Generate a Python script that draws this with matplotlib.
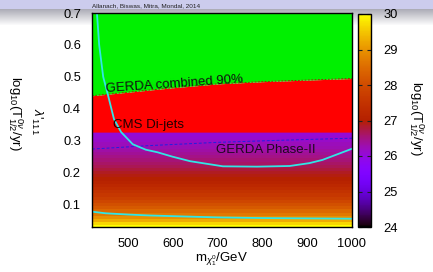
import numpy as np
import matplotlib
matplotlib.use("Agg")
import matplotlib.pyplot as plt
from matplotlib.colors import Normalize
from matplotlib.cm import ScalarMappable

plt.rcParams['font.family'] = ['Liberation Sans', 'DejaVu Sans']
plt.rcParams['mathtext.fontset'] = 'custom'
plt.rcParams['mathtext.rm'] = 'Liberation Sans'
plt.rcParams['mathtext.it'] = 'Liberation Sans:italic'

# log10(T_1/2) bands (one row per lambda step)
lam_rows = [0.03, 0.04, 0.05, 0.06, 0.07, 0.08, 0.09, 0.10, 0.11, 0.12, 0.13,
            0.14, 0.15, 0.16, 0.17, 0.18, 0.19, 0.20, 0.21, 0.22, 0.23, 0.24,
            0.25, 0.26, 0.27, 0.28, 0.29, 0.30, 0.31, 0.32, 0.33]
logT_rows = [30.0, 29.65, 29.26, 28.95, 28.68, 28.45, 28.24, 28.06, 27.90, 27.74,
             27.60, 27.48, 27.36, 27.24, 27.14, 27.04, 26.94, 26.86, 26.77, 26.69,
             26.61, 26.54, 26.47, 26.40, 26.34, 26.27, 26.21, 26.15, 26.10, 26.04, 25.98]

# exclusion boundaries
cms_m = [420, 1000]
cms_lam = [0.327, 0.327]
gerda_comb_m = [420, 500, 600, 700, 800, 900, 1000]
gerda_comb_lam = [0.441, 0.452, 0.466, 0.478, 0.485, 0.490, 0.495]
gerda2_m = [420, 550, 700, 850, 1000]
gerda2_lam = [0.274, 0.285, 0.295, 0.302, 0.308]

# cyan contours
cyan1_m = [431, 436, 445, 456, 469, 485, 511, 540, 566, 600, 639, 712, 788, 861, 905, 934, 1000]
cyan1_lam = [0.70, 0.60, 0.50, 0.441, 0.368, 0.327, 0.289, 0.272, 0.264, 0.250, 0.236,
             0.220, 0.219, 0.221, 0.230, 0.240, 0.275]
cyan2_m = [420, 450, 500, 550, 600, 700, 800, 900, 1000]
cyan2_lam = [0.078, 0.073, 0.069, 0.066, 0.064, 0.060, 0.058, 0.057, 0.056]

W, H = 433, 272
fig = plt.figure(figsize=(W / 100, H / 100), dpi=100)

# slide header band + shadow
bg = fig.add_axes([0, 0, 1, 1], zorder=-5)
grad = np.ones((H, 1, 3))
grad[:9] = [0.80, 0.80, 0.93]
for i in range(9, 26):
    t = (i - 9) / 16
    grad[i] = np.array([0.68, 0.68, 0.72]) * (1 - t) + t
bg.imshow(grad, aspect='auto', extent=[0, 1, 0, 1])
bg.axis('off')

ax = fig.add_axes([92 / W, 45 / H, 260 / W, 214 / H])
norm = Normalize(24, 30)
lam_edges = np.concatenate([[lam_rows[0] - 0.005], np.array(lam_rows) + 0.005])
ax.pcolormesh([420, 1000], lam_edges, np.array(logT_rows).reshape(-1, 1),
              cmap='gnuplot', norm=norm, shading='flat')

gc = np.array(gerda_comb_lam)
ax.fill_between(gerda_comb_m, np.interp(gerda_comb_m, cms_m, cms_lam), gc,
                color='#ff0000', lw=0)
ax.fill_between(gerda_comb_m, gc, 0.75, color='#00f000', lw=0)
ax.plot(gerda_comb_m, gc, color='#c00000', lw=0.6, ls=(0, (2, 2)))
ax.plot(gerda2_m, gerda2_lam, color='#2020e0', lw=0.7, ls=(0, (3, 2)))
ax.plot(cyan1_m, cyan1_lam, color='#30e6e6', lw=1.3)
ax.plot(cyan2_m, cyan2_lam, color='#30e6e6', lw=1.3)

ax.text(603, 0.478, 'GERDA combined 90%', fontsize=9.5, ha='center', va='center',
        rotation=4, color='#101010')
ax.text(546, 0.350, 'CMS Di-jets', fontsize=9.5, ha='center', va='center', color='#200000')
ax.text(808, 0.272, 'GERDA Phase-II', fontsize=9.5, ha='center', va='center', color='#200820')

ax.set_xlim(420, 1000)
ax.set_ylim(0.03, 0.7)
ax.set_xticks([500, 600, 700, 800, 900, 1000])
ax.set_yticks([0.1, 0.2, 0.3, 0.4, 0.5, 0.6, 0.7])
ax.set_yticklabels(['0.1', '0.2', '0.3', '0.4', '0.5', '0.6', '0.7'])
ax.tick_params(length=0, labelsize=9.3, pad=8)
for s in ax.spines.values():
    s.set_linewidth(1.0)

cax = fig.add_axes([358 / W, 45 / H, 13 / W, 213 / H])
cb = fig.colorbar(ScalarMappable(norm=norm, cmap='gnuplot'), cax=cax)
cb.set_ticks([24, 25, 26, 27, 28, 29, 30])
cax.tick_params(direction='in', length=3, width=0.8, color='#202020',
                left=True, right=True, labelsize=9.3, pad=9)
cb.outline.set_linewidth(1.0)

lab = r'log$_{10}$(T$^{0\nu}_{1/2}$/yr)'
fig.text(416 / W, 1 - 118 / H, lab, rotation=270, fontsize=9.5, ha='center', va='center')
fig.text(15 / W, 1 - 113 / H, lab, rotation=270, fontsize=9.5, ha='center', va='center')
fig.text(37 / W, 1 - 121 / H, r"$\lambda$'$_{111}$", rotation=270, fontsize=9.5,
         ha='center', va='center')
fig.text(221 / W, 1 - 259 / H, r'm$_{\chi_1^0}$/GeV', fontsize=9.5, ha='center', va='center')
fig.text(92 / W, 1 - 6 / H, 'Allanach, Biswas, Mitra, Mondal, 2014', fontsize=4.6,
         ha='left', va='center', color='#202020')

fig.savefig('out.png', dpi=100)
